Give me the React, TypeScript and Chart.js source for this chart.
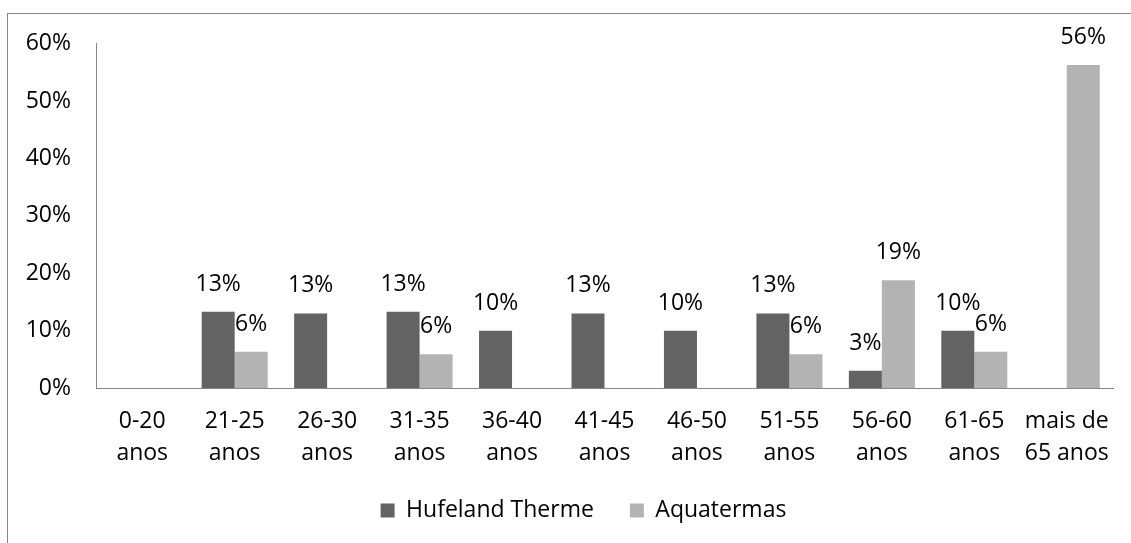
import React, { useEffect, useRef } from "react";
import { Chart, registerables } from "chart.js";

Chart.register(...registerables);

// Age brackets (two-line tick labels)
const categories: string[][] = [
  ["0-20", "anos"],
  ["21-25", "anos"],
  ["26-30", "anos"],
  ["31-35", "anos"],
  ["36-40", "anos"],
  ["41-45", "anos"],
  ["46-50", "anos"],
  ["51-55", "anos"],
  ["56-60", "anos"],
  ["61-65", "anos"],
  ["mais de", "65 anos"],
];

// Share of visitors per bracket, in percent
const hufeland: (number | null)[] = [null, 13.3, 13.0, 13.3, 10.0, 13.0, 10.0, 13.0, 3.0, 10.0, null];
const aquatermas: (number | null)[] = [null, 6.3, null, 5.9, null, null, null, 5.9, 18.8, 6.3, 56.3];

const seriesNames = ["Hufeland Therme", "Aquatermas"];
const seriesColors = ["#636363", "#b3b3b3"];

const yMin = 0;
const yMax = 60;
const yStep = 10;

const FONT_FAMILY = '"Open Sans", "Noto Sans", sans-serif';
const FONT_SIZE = 23;
const AXIS_COLOR = "#868686";

// Draws the rounded percentage above each bar
const valueLabels = {
  id: "valueLabels",
  afterDatasetsDraw(chart: any) {
    const ctx = chart.ctx;
    ctx.save();
    ctx.font = `${FONT_SIZE}px ${FONT_FAMILY}`;
    ctx.fillStyle = "#000";
    ctx.textAlign = "center";
    ctx.textBaseline = "middle";
    chart.data.datasets.forEach((ds: any, i: number) => {
      const meta = chart.getDatasetMeta(i);
      meta.data.forEach((el: any, j: number) => {
        const v = ds.data[j];
        if (v == null) return;
        ctx.fillText(`${Math.round(v)}%`, el.x, el.y - 27.5);
      });
    });
    ctx.restore();
  },
};

export default function App() {
  const canvasRef = useRef<HTMLCanvasElement | null>(null);

  useEffect(() => {
    if (!canvasRef.current) return;
    const chart = new Chart(canvasRef.current, {
      type: "bar",
      data: {
        labels: categories,
        datasets: [
          {
            label: seriesNames[0],
            data: hufeland,
            backgroundColor: seriesColors[0],
            categoryPercentage: 0.714,
            barPercentage: 1,
          },
          {
            label: seriesNames[1],
            data: aquatermas,
            backgroundColor: seriesColors[1],
            categoryPercentage: 0.714,
            barPercentage: 1,
          },
        ],
      },
      options: {
        responsive: false,
        animation: false,
        devicePixelRatio: 1,
        layout: { padding: { left: 0, right: 0, top: 20, bottom: 11 } },
        font: { family: FONT_FAMILY, size: FONT_SIZE },
        plugins: {
          tooltip: { enabled: false },
          legend: {
            position: "bottom",
            labels: {
              boxWidth: 14,
              boxHeight: 14,
              padding: 36,
              color: "#000",
              font: { family: FONT_FAMILY, size: FONT_SIZE },
            },
          },
        },
        scales: {
          x: {
            grid: { display: false, drawTicks: false },
            border: { display: true, color: AXIS_COLOR, width: 1 },
            ticks: {
              color: "#000",
              padding: 18,
              maxRotation: 0,
              autoSkip: false,
              font: { family: FONT_FAMILY, size: FONT_SIZE, lineHeight: 1.38 },
            },
            afterFit(scale: any) {
              scale.height = 75;
            },
          },
          y: {
            min: yMin,
            max: yMax,
            grid: { display: false, drawTicks: false },
            border: { display: true, color: AXIS_COLOR, width: 1 },
            ticks: {
              stepSize: yStep,
              color: "#000",
              padding: 25,
              font: { family: FONT_FAMILY, size: FONT_SIZE },
              callback: (v: any) => `${v}%`,
            },
            afterFit(scale: any) {
              scale.width = 88;
            },
          },
          // empty right-hand gutter between the plot and the frame edge
          gutter: {
            type: "linear",
            position: "right",
            display: true,
            grid: { display: false, drawTicks: false },
            border: { display: false },
            ticks: { display: false },
            afterFit(scale: any) {
              scale.width = 46;
            },
          },
        },
      },
      plugins: [valueLabels],
    });
    return () => chart.destroy();
  }, []);

  return (
    <div
      style={{
        position: "fixed",
        left: 7,
        top: 13,
        width: 1200,
        height: 600,
        borderTop: `1px solid ${AXIS_COLOR}`,
        borderLeft: `1px solid ${AXIS_COLOR}`,
        boxSizing: "border-box",
        background: "#fff",
      }}
    >
      <canvas
        ref={canvasRef}
        width={1151}
        height={538}
        style={{ display: "block", position: "absolute", left: 0, top: -9 }}
      />
    </div>
  );
}
